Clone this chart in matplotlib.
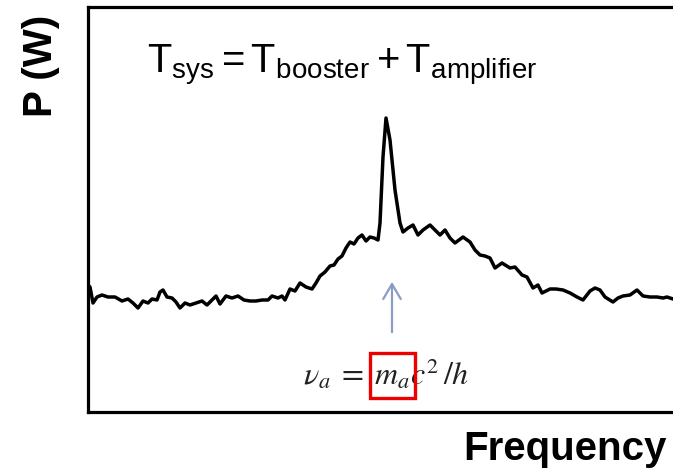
import matplotlib
matplotlib.use("Agg")
import matplotlib.pyplot as plt
from matplotlib.patches import Rectangle

plt.rcParams["mathtext.fontset"] = "custom"
plt.rcParams["mathtext.rm"] = "Liberation Sans"
plt.rcParams["mathtext.it"] = "Liberation Sans:italic"
plt.rcParams["mathtext.bf"] = "Liberation Sans:bold"

# Spectrum (frequency in arbitrary units, power in arbitrary units)
freq = [88, 90, 93, 97, 102, 108, 115, 122, 128, 133, 138, 143, 148, 152, 157, 160,
        163, 167, 172, 176, 180, 185, 190, 196, 202, 207, 212, 216, 220, 226, 232,
        238, 244, 250, 256, 262, 268, 272, 278, 282, 285, 290, 295, 300, 306, 312,
        316, 320, 325, 330, 334, 338, 342, 346, 350, 354, 358, 362, 366, 370, 374,
        378, 380, 383, 386, 390, 395, 400, 403, 408, 413, 418, 423, 430, 435, 440,
        445, 450, 455, 463, 470, 475, 480, 485, 490, 495, 502, 510, 515, 522, 527,
        533, 538, 542, 550, 556, 563, 570, 577, 583, 590, 595, 600, 605, 613, 618,
        623, 630, 637, 643, 650, 657, 663, 667, 673, 680]
power = [127, 125, 109, 115, 117, 115, 115, 111, 113, 109, 104, 111, 109, 113, 112,
         120, 122, 115, 114, 110, 104, 109, 107, 109, 111, 107, 112, 116, 108, 116,
         114, 116, 112, 111, 111, 112, 112, 116, 114, 116, 112, 123, 121, 129, 125,
         123, 129, 136, 140, 146, 147, 153, 156, 164, 170, 168, 174, 177, 171, 175,
         174, 172, 189, 255, 294, 272, 222, 189, 180, 184, 187, 177, 182, 187, 182,
         177, 182, 174, 169, 175, 170, 162, 157, 156, 154, 144, 149, 144, 145, 137,
         135, 124, 127, 119, 123, 123, 122, 119, 115, 112, 121, 124, 122, 115, 110,
         114, 116, 117, 122, 116, 115, 115, 114, 115, 113, 115]

axion_freq = 392
arrow_from, arrow_to = 77, 133

fig = plt.figure(figsize=(6.73, 4.70), dpi=100)
W, H = 673, 470
ax = fig.add_axes([88 / W, 58 / H, (700 - 88) / W, 405 / H])
ax.plot(freq, power, color="black", lw=2.5, solid_joinstyle="round")
ax.set_xlim(88, 700)
ax.set_ylim(0, 405)
ax.set_xticks([])
ax.set_yticks([])
for side in ["left", "top", "bottom"]:
    ax.spines[side].set_linewidth(2.3)
ax.spines["right"].set_visible(False)

# arrow marking the axion line
ax.annotate("", xy=(axion_freq, arrow_to), xytext=(axion_freq, arrow_from),
            arrowprops=dict(arrowstyle="->,head_length=0.6,head_width=0.35",
                            color="#8a9cc4", lw=1.6, mutation_scale=18))

# formulas
ax.text(147, 340, r"$\mathrm{T_{sys} = T_{booster} + T_{amplifier}}$",
        fontsize=28.6, va="baseline", ha="left", color="black",
        math_fontfamily="custom")
ax.text(303, 27, r"$\nu_a \;=\; m_a c^2\,/h$", fontsize=23, va="baseline",
        ha="left", color="#222222", math_fontfamily="stix")
ax.add_patch(Rectangle((370, 14), 45, 45, fill=False, edgecolor="#ee0000",
                       lw=2.4, zorder=5))

# axis labels
fig.text(41 / W, 1 - 66 / H, "P (W)", rotation=90, fontsize=29,
         fontweight="bold", family="Liberation Sans", ha="center", va="center")
fig.text(565 / W, 1 - 460 / H, "Frequency", fontsize=29, fontweight="bold",
         family="Liberation Sans", ha="center", va="baseline")

fig.savefig("out.png", dpi=100)
